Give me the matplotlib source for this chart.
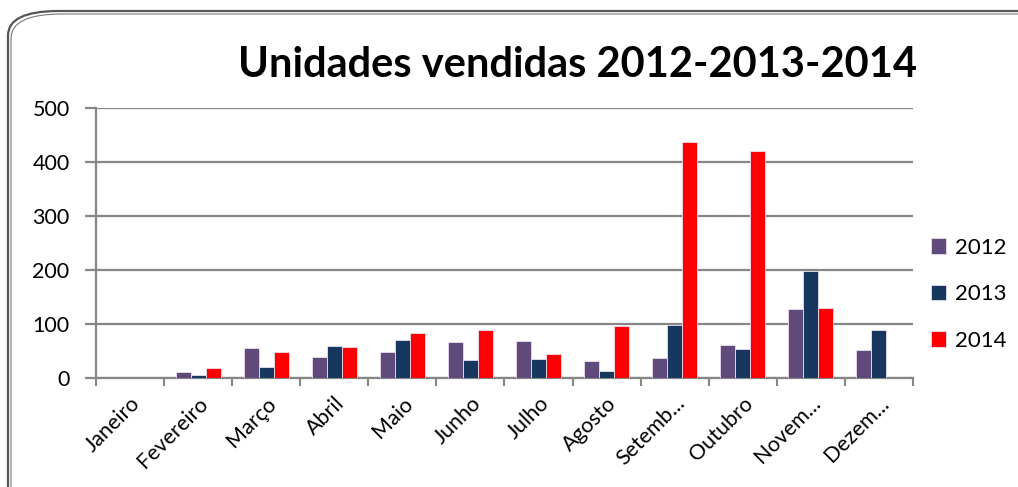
import numpy as np
import matplotlib.pyplot as plt
from matplotlib.patches import FancyBboxPatch

plt.rcParams['font.family'] = ['Lato', 'DejaVu Sans']

# Data
months = ["Janeiro", "Fevereiro", "Março", "Abril", "Maio", "Junho",
          "Julho", "Agosto", "Setemb...", "Outubro", "Novem...", "Dezem..."]
sales_2012 = [0, 11, 56, 38, 48, 67, 68, 32, 37, 62, 127, 52]
sales_2013 = [0, 5, 20, 60, 71, 34, 35, 13, 99, 54, 198, 88]
sales_2014 = [0, 18, 49, 57, 84, 88, 45, 97, 437, 420, 130, 0]
years = ["2012", "2013", "2014"]
colors = ["#604A7B", "#17375E", "#FF0000"]

fig = plt.figure(figsize=(10.18, 4.87), dpi=100)

# rounded frame (double line), running off the right/bottom edges
for off, lw, col in [(0, 1.6, "#555555"), (3, 0.8, "#777777")]:
    frame = FancyBboxPatch(((8 + off) / 1018, -0.2), 1.2, (487 - 11 - off) / 487 + 0.2,
                           boxstyle="round,pad=0,rounding_size=0.05",
                           transform=fig.transFigure, fill=False,
                           edgecolor=col, linewidth=lw, mutation_aspect=487 / 1018 * 2.1)
    fig.add_artist(frame)

ax = fig.add_axes([96 / 1018, 109 / 487, (913 - 96) / 1018, (378 - 108) / 487])

x = np.arange(len(months))
w = 0.22
for i, (vals, lab, c) in enumerate(zip([sales_2012, sales_2013, sales_2014], years, colors)):
    ax.bar(x + (i - 1) * w, vals, width=w, color=c, label=lab,
           edgecolor="#E8E0F0", linewidth=0.6, zorder=3)

ax.set_xlim(-0.5, len(months) - 0.5)
ax.set_ylim(0, 500)
ax.set_yticks(range(0, 501, 100))
ax.grid(axis="y", color="#868686", linewidth=1.6, zorder=0)

ax.set_xticks(x)
ax.set_xticklabels(months, rotation=45, ha="right", rotation_mode="anchor", fontsize=15.5)
ax.set_xticks(np.arange(-0.5, len(months), 1), minor=True)
ax.tick_params(axis="x", which="major", length=0, pad=11)
ax.tick_params(axis="x", which="minor", length=6, width=1.5, color="#868686")
ax.tick_params(axis="y", length=8, width=1.6, color="#868686", labelsize=15.5, pad=11)

for s in ["top", "right"]:
    ax.spines[s].set_visible(False)
for s in ["left", "bottom"]:
    ax.spines[s].set_color("#868686")
    ax.spines[s].set_linewidth(1.6)

fig.text(578 / 1018, 1 - 65 / 487, "Unidades vendidas 2012-2013-2014",
         ha="center", va="center", fontsize=30, fontweight="bold")

ax.legend(loc="center left", bbox_to_anchor=(1.008, 0.31), borderaxespad=0,
          borderpad=0.5, frameon=False,
          fontsize=16, handlelength=0.7, handleheight=0.7, handletextpad=0.4,
          labelspacing=1.2)

fig.savefig("out.png", dpi=100)
